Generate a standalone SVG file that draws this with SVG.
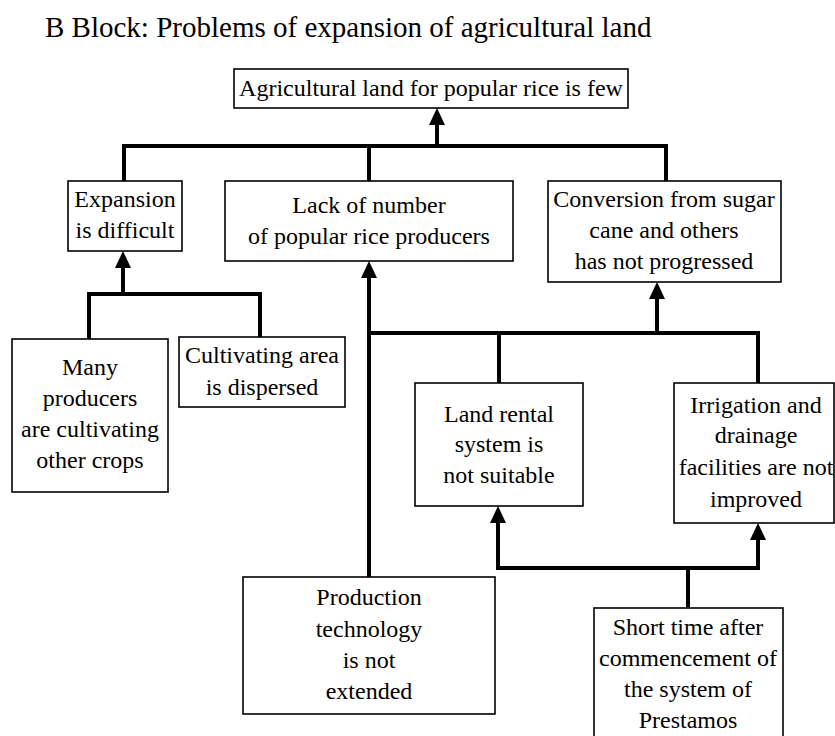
<svg xmlns="http://www.w3.org/2000/svg" width="835" height="736" viewBox="0 0 835 736">
  <style>
    .box { fill: #ffffff; stroke: #000000; stroke-width: 1.6; }
    .lbl { font-family: "Liberation Serif", "Times New Roman", serif; font-size: 24px; fill: #000000; text-anchor: middle; }
    .title { font-family: "Liberation Serif", "Times New Roman", serif; font-size: 29px; fill: #000000; }
    .wire { fill: none; stroke: #000000; stroke-width: 4; stroke-linejoin: miter; stroke-linecap: square; }
    .arrow { marker-end: url(#head); }
  </style>
  <defs>
    <marker id="head" markerUnits="userSpaceOnUse" markerWidth="18" markerHeight="18" refX="0" refY="8" orient="auto" overflow="visible">
      <path d="M0,0 L17,8 L0,16 Z" fill="#000000"/>
    </marker>
  </defs>

  <rect width="835" height="736" fill="#ffffff"/>

  <text class="title" x="45" y="37">B Block: Problems of expansion of agricultural land</text>

  <!-- connectors -->
  <g id="connectors">
    <!-- level 1 into the top box -->
    <path class="wire" d="M124,181 V146 H666 V181 M369,146 V181"/>
    <path class="wire arrow" d="M437,146 V125"/>
    <!-- into "Expansion is difficult" -->
    <path class="wire" d="M89,339 V294 H260 V337"/>
    <path class="wire arrow" d="M123,294 V268"/>
    <!-- Production technology up to "Lack of number" -->
    <path class="wire arrow" d="M369,577 V278"/>
    <!-- into "Conversion from sugar cane" -->
    <path class="wire" d="M369,333 H758 V383 M499,333 V383"/>
    <path class="wire arrow" d="M657,333 V299"/>
    <!-- Prestamos fan-out -->
    <path class="wire" d="M688,608 V568"/>
    <path class="wire arrow" d="M688,568 H498 V523"/>
    <path class="wire arrow" d="M688,568 H758 V540"/>
  </g>

  <g id="top">
    <rect class="box" x="234" y="69" width="394" height="39"/>
    <text class="lbl" x="431" y="96">Agricultural land for popular rice is few</text>
  </g>

  <g id="expansion">
    <rect class="box" x="68" y="181" width="114" height="70"/>
    <text class="lbl" x="125" y="207">Expansion</text>
    <text class="lbl" x="125" y="238">is difficult</text>
  </g>

  <g id="lack">
    <rect class="box" x="225" y="181" width="288" height="80"/>
    <text class="lbl" x="369" y="213">Lack of number</text>
    <text class="lbl" x="369" y="244">of popular rice producers</text>
  </g>

  <g id="conversion">
    <rect class="box" x="548" y="181" width="233" height="101"/>
    <text class="lbl" x="664" y="207">Conversion from sugar</text>
    <text class="lbl" x="664" y="238">cane and others</text>
    <text class="lbl" x="664" y="269">has not progressed</text>
  </g>

  <g id="many">
    <rect class="box" x="12" y="339" width="156" height="153"/>
    <text class="lbl" x="90" y="375">Many</text>
    <text class="lbl" x="90" y="406">producers</text>
    <text class="lbl" x="90" y="437">are cultivating</text>
    <text class="lbl" x="90" y="468">other crops</text>
  </g>

  <g id="dispersed">
    <rect class="box" x="179" y="337" width="166" height="70"/>
    <text class="lbl" x="262" y="363">Cultivating area</text>
    <text class="lbl" x="262" y="395">is dispersed</text>
  </g>

  <g id="rental">
    <rect class="box" x="415" y="383" width="168" height="123"/>
    <text class="lbl" x="499" y="422">Land rental</text>
    <text class="lbl" x="499" y="452">system is</text>
    <text class="lbl" x="499" y="483">not suitable</text>
  </g>

  <g id="irrigation">
    <rect class="box" x="674" y="383" width="160" height="140"/>
    <text class="lbl" x="756" y="413">Irrigation and</text>
    <text class="lbl" x="756" y="443">drainage</text>
    <text class="lbl" x="756" y="475">facilities are not</text>
    <text class="lbl" x="756" y="507">improved</text>
  </g>

  <g id="production">
    <rect class="box" x="243" y="577" width="252" height="137"/>
    <text class="lbl" x="369" y="605">Production</text>
    <text class="lbl" x="369" y="637">technology</text>
    <text class="lbl" x="369" y="668">is not</text>
    <text class="lbl" x="369" y="699">extended</text>
  </g>

  <g id="prestamos">
    <rect class="box" x="594" y="608" width="189" height="140"/>
    <text class="lbl" x="688" y="635">Short time after</text>
    <text class="lbl" x="688" y="666">commencement of</text>
    <text class="lbl" x="688" y="697">the system of</text>
    <text class="lbl" x="688" y="728">Prestamos</text>
  </g>
</svg>
